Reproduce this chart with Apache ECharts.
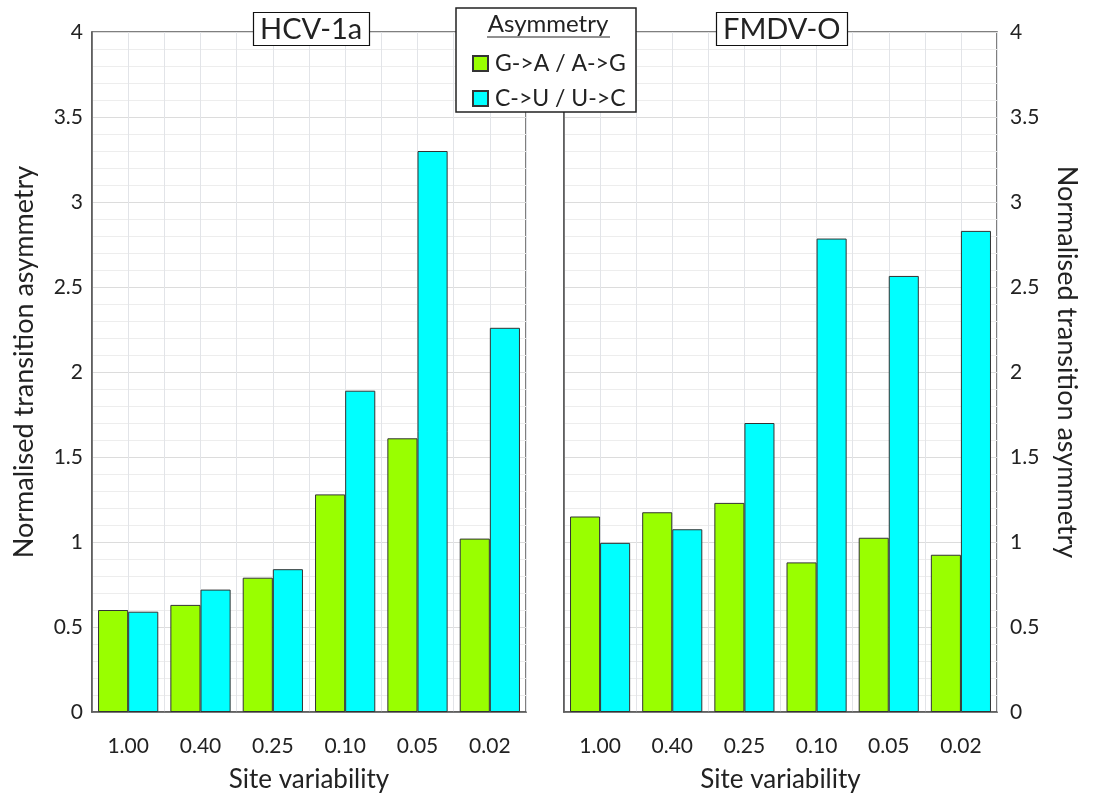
<!DOCTYPE html>
<html><head><meta charset="utf-8">
<script src="https://cdn.jsdelivr.net/npm/echarts@6/dist/echarts.min.js"></script>
<style>html,body{margin:0;padding:0;background:#fff}#c{width:1098px;height:793px}</style>
</head><body><div id="c"></div>
<script>
const categories = ['1.00','0.40','0.25','0.10','0.05','0.02'];
const seriesNames = ['G->A / A->G','C->U / U->C'];
const hcvGA = [0.60, 0.63, 0.79, 1.28, 1.61, 1.02];
const hcvCU = [0.59, 0.72, 0.84, 1.89, 3.30, 2.26];
const fmdvGA = [1.15, 1.175, 1.23, 0.88, 1.025, 0.925];
const fmdvCU = [0.995, 1.075, 1.70, 2.785, 2.565, 2.83];
const panelTitles = ['HCV-1a','FMDV-O'];
const yName = 'Normalised transition asymmetry';
const xName = 'Site variability';
const legendTitle = 'Asymmetry';

const FONT = 'Lato';
const TXT = '#222';
const colors = ['#99ff00','#00ffff'];

const grids = [
  {left:92, right:572, top:32, bottom:81},
  {left:564, right:101, top:32, bottom:81}
];

function catAxis(gi){
  return {type:'category', gridIndex:gi, data:categories,
    axisLine:{show:true, lineStyle:{color:'#555', width:1.5}},
    axisTick:{show:false},
    axisLabel:{color:TXT, fontFamily:FONT, fontSize:21, margin:24},
    splitLine:{show:false},
    name:xName, nameLocation:'middle', nameGap:55,
    nameTextStyle:{color:TXT, fontFamily:FONT, fontSize:26}};
}
function gridXAxis(gi){
  return {type:'value', gridIndex:gi, min:0, max:12, interval:1, position:'top',
    axisLine:{show:false}, axisTick:{show:false}, axisLabel:{show:false},
    splitLine:{show:true, lineStyle:{color:'#e2e4e8', width:1}}};
}
function valAxis(gi, pos){
  return {type:'value', gridIndex:gi, min:0, max:4, interval:0.5, position:pos,
    axisLine:{show:true, lineStyle:{color:'#555', width:1.5}},
    axisTick:{show:false},
    axisLabel:{show:true, color:TXT, fontFamily:FONT, fontSize:21, margin:pos==='left'?9:13},
    splitLine:{show:true, lineStyle:{color:'#dcdcdc', width:1}},
    minorTick:{show:false, splitNumber:5},
    minorSplitLine:{show:true, lineStyle:{color:'#ededed', width:1}},
    name:yName, nameLocation:'middle', nameGap:pos==='left'?54:56,
    nameRotate: pos==='left'?90:-90,
    nameTextStyle:{color:TXT, fontFamily:FONT, fontSize:27,
      padding: pos==='left'?[0,0,0,20]:[0,20,0,0]}};
}
function bar(name, data, xi, yi, ci){
  return {type:'bar', name:name, data:data, xAxisIndex:xi, yAxisIndex:yi,
    barGap:'0%', barCategoryGap:'16.7%',
    itemStyle:{color:colors[ci], borderColor:'#333', borderWidth:1},
    emphasis:{disabled:true}, z:3};
}

const titleStyle = {fontFamily:FONT, fontSize:29, fontWeight:'normal', color:TXT};
const option = {
  animation:false,
  backgroundColor:'#fff',
  grid: grids.map(g=>Object.assign({show:true, borderColor:'#555', borderWidth:1.5, backgroundColor:'transparent',
    containLabel:false, outerBoundsMode:'none'}, g)),
  xAxis:[catAxis(0), gridXAxis(0), catAxis(1), gridXAxis(1)],
  yAxis:[valAxis(0,'left'), valAxis(1,'right')],
  title:[
    {text:panelTitles[0], left:253, top:12, padding:[3,7,2,7], backgroundColor:'#fff', borderColor:'#111', borderWidth:1.2,
      textStyle:titleStyle, z:20},
    {text:panelTitles[1], left:716, top:12, padding:[3,7,2,7], backgroundColor:'#fff', borderColor:'#111', borderWidth:1.2,
      textStyle:titleStyle, z:20}
  ],
  legend:{data:seriesNames, orient:'vertical', left:467, top:47, itemWidth:15, itemHeight:15, itemGap:12,
    textStyle:{fontFamily:FONT, fontSize:23, color:TXT, padding:[0,0,0,2]}, icon:'rect', z:30, selectedMode:false},
  graphic:[
    {type:'rect', shape:{x:456, y:8, width:180, height:104}, style:{fill:'#fff', stroke:'#222', lineWidth:1.5}, z:25},
    {type:'text', x:548, y:24, style:{text:legendTitle, fill:TXT, font:'24px '+FONT, align:'center', verticalAlign:'middle'}, z:26},
    {type:'line', shape:{x1:487, y1:37, x2:610, y2:37}, style:{stroke:TXT, lineWidth:1.2}, z:26}
  ],
  series:[
    bar(seriesNames[0], hcvGA, 0, 0, 0),
    bar(seriesNames[1], hcvCU, 0, 0, 1),
    bar(seriesNames[0], fmdvGA, 2, 1, 0),
    bar(seriesNames[1], fmdvCU, 2, 1, 1)
  ]
};
const chart = echarts.init(document.getElementById('c'), null, {renderer:'canvas'});
chart.setOption(option);
</script></body></html>
